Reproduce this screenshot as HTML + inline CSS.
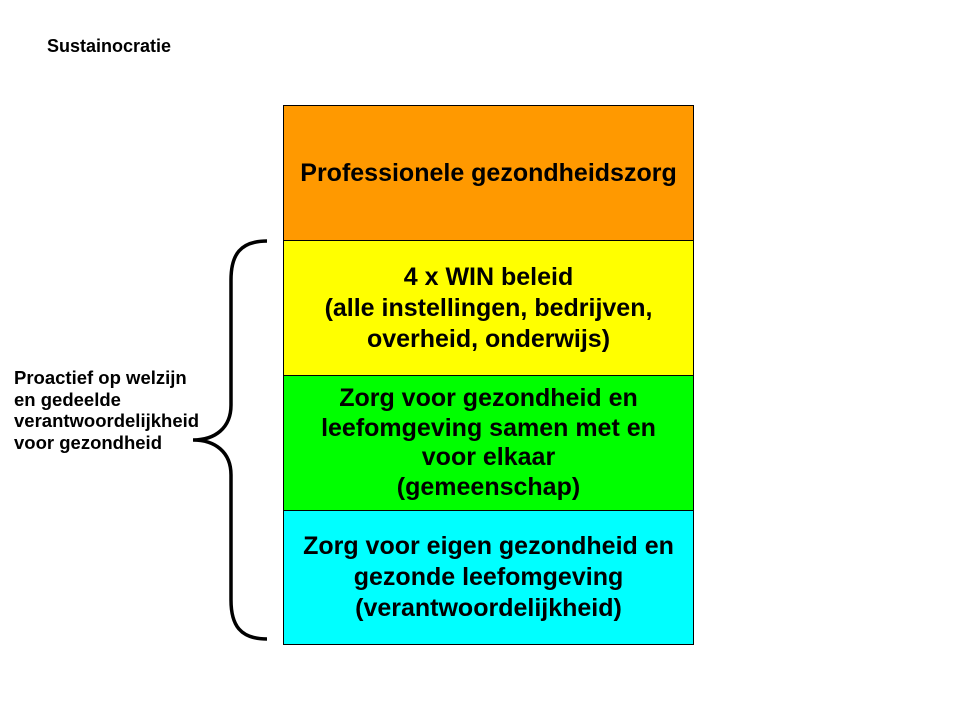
<!DOCTYPE html>
<html><head><style>
body{margin:0;width:960px;height:720px;background:#fff;position:relative;font-family:"Liberation Sans",Arial,sans-serif;font-weight:bold;overflow:hidden}
.t{position:absolute;left:47px;top:36px;font-size:18px;line-height:21px}
.b{position:absolute;left:283px;width:411px;border:1px solid #000;display:flex;align-items:center;justify-content:center;text-align:center;font-size:25px;line-height:31px;box-sizing:border-box}
.l{position:absolute;left:14px;top:367px;font-size:18.5px;line-height:21.7px}
</style></head><body>
<div class="t">Sustainocratie</div>
<div class="b" style="top:105px;height:136px;background:#ff9900">Professionele gezondheidszorg</div>
<div class="b" style="top:240px;height:136px;background:#ffff00">4 x WIN beleid<br>(alle instellingen, bedrijven,<br>overheid, onderwijs)</div>
<div class="b" style="top:375px;height:136px;background:#00ff00;line-height:29.5px">Zorg voor gezondheid en<br>leefomgeving samen met en<br>voor elkaar<br>(gemeenschap)</div>
<div class="b" style="top:510px;height:135px;background:#00ffff">Zorg voor eigen gezondheid en<br>gezonde leefomgeving<br>(verantwoordelijkheid)</div>
<div class="l">Proactief op welzijn<br>en gedeelde<br>verantwoordelijkheid<br>voor gezondheid</div>
<svg width="960" height="720" style="position:absolute;left:0;top:0">
<path d="M267 241 C240 241 231 255 231 280 L231 405 C231 428 215 440 193 440 C215 440 231 452 231 475 L231 600 C231 625 240 639 267 639" fill="none" stroke="#000" stroke-width="3.5"/>
</svg>
</body></html>
